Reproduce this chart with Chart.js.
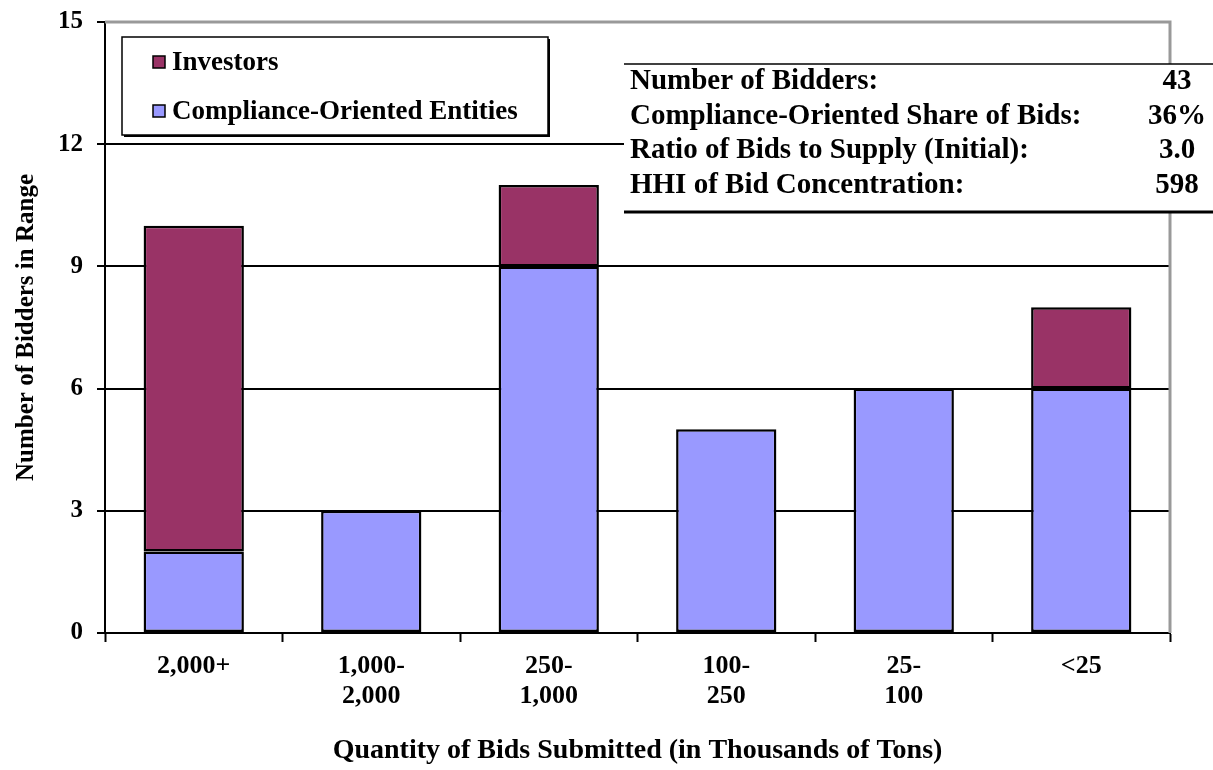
<!DOCTYPE html>
<html>
<head>
<meta charset="utf-8">
<script src="https://cdn.jsdelivr.net/npm/chart.js@4"></script>
<style>
  html, body { margin: 0; padding: 0; background: #fff; }
  #wrap { width: 1213px; height: 770px; }
</style>
</head>
<body>
<div id="wrap"><canvas id="myChart" width="1213" height="770"></canvas></div>
<script>
const categories = [["2,000+"], ["1,000-", "2,000"], ["250-", "1,000"], ["100-", "250"], ["25-", "100"], ["<25"]];
const compliance = [2, 3, 9, 5, 6, 6];
const investors = [8, 0, 2, 0, 0, 2];
const seriesNames = ["Investors", "Compliance-Oriented Entities"];
const seriesColors = ["#993366", "#9999FF"];
const yMax = 15;
const yStep = 3;
const statLabels = ["Number of Bidders:", "Compliance-Oriented Share of Bids:", "Ratio of Bids to Supply (Initial):", "HHI of Bid Concentration:"];
const statValues = ["43", "36%", "3.0", "598"];

const serif = "'Liberation Serif', 'Times New Roman', serif";

// gray plot border on top and right, like the Excel plot area
const plotBorder = {
  id: "plotBorder",
  beforeDatasetsDraw(chart) {
    const { ctx, chartArea: a } = chart;
    ctx.save();
    ctx.strokeStyle = "#999";
    ctx.lineWidth = 3;
    ctx.beginPath();
    ctx.moveTo(a.left, a.top);
    ctx.lineTo(a.right, a.top);
    ctx.lineTo(a.right, a.bottom);
    ctx.stroke();
    ctx.restore();
  },
};

// legend box and stats table inside the plot
const overlays = {
  id: "overlays",
  afterDraw(chart) {
    const ctx = chart.ctx;
    ctx.save();

    // legend
    ctx.fillStyle = "#000";
    ctx.fillRect(124, 39, 426, 98);
    ctx.fillStyle = "#fff";
    ctx.fillRect(122, 37, 426, 98);
    ctx.strokeStyle = "#000";
    ctx.lineWidth = 1.5;
    ctx.strokeRect(122, 37, 426, 98);
    ctx.font = "bold 27px " + serif;
    ctx.textBaseline = "middle";
    const rows = [62, 111];
    seriesNames.forEach((name, i) => {
      ctx.fillStyle = seriesColors[i];
      ctx.fillRect(153, rows[i] - 6, 12, 12);
      ctx.strokeStyle = "#000";
      ctx.lineWidth = 1.5;
      ctx.strokeRect(153, rows[i] - 6, 12, 12);
      ctx.fillStyle = "#000";
      ctx.fillText(name, 172, rows[i] + 1);
    });

    // stats table
    ctx.fillStyle = "#fff";
    ctx.fillRect(624, 64, 600, 149);
    ctx.strokeStyle = "#000";
    ctx.lineWidth = 1.5;
    ctx.beginPath();
    ctx.moveTo(624, 64);
    ctx.lineTo(1213, 64);
    ctx.stroke();
    ctx.lineWidth = 3;
    ctx.beginPath();
    ctx.moveTo(624, 212);
    ctx.lineTo(1213, 212);
    ctx.stroke();
    ctx.fillStyle = "#000";
    ctx.font = "bold 29px " + serif;
    statLabels.forEach((lab, i) => {
      const y = 82 + i * 34.5;
      ctx.textAlign = "left";
      ctx.fillText(lab, 630, y);
      ctx.textAlign = "center";
      ctx.fillText(statValues[i], 1177, y);
    });
    ctx.restore();
  },
};

const ctx = document.getElementById("myChart").getContext("2d");

const noZeroBorder = (c) => (c.raw === 0 ? 0 : 2.5);

const myChart = new Chart(ctx, {
  type: "bar",
  data: {
    labels: categories,
    datasets: [
      {
        label: seriesNames[1],
        data: compliance,
        backgroundColor: seriesColors[1],
        borderColor: "#000",
        borderWidth: noZeroBorder,
        borderSkipped: false,
      },
      {
        label: seriesNames[0],
        data: investors,
        backgroundColor: seriesColors[0],
        borderColor: "#000",
        borderWidth: noZeroBorder,
        borderSkipped: false,
      },
    ],
  },
  options: {
    responsive: false,
    animation: false,
    categoryPercentage: 1,
    barPercentage: 0.565,
    layout: {
      padding: { top: 22, right: 43, left: 0, bottom: 0 },
    },
    scales: {
      x: {
        stacked: true,
        afterFit(scale) {
          scale.height = 137;
          scale.paddingLeft = 0;
          scale.paddingRight = 0;
        },
        title: {
          display: true,
          text: "Quantity of Bids Submitted (in Thousands of Tons)",
          color: "#000",
          font: { family: serif, size: 28, weight: "bold" },
          padding: { top: 0, bottom: 2 },
        },
        ticks: {
          color: "#000",
          maxRotation: 0,
          padding: 9,
          font: { family: serif, size: 26, weight: "bold", lineHeight: 1.15 },
        },
        grid: {
          offset: true,
          drawOnChartArea: false,
          drawTicks: true,
          tickLength: 9,
          tickColor: "#000",
          tickWidth: 2,
        },
        border: { display: true, color: "#000", width: 2 },
      },
      y: {
        stacked: true,
        min: 0,
        max: yMax,
        afterFit(scale) {
          scale.width = 105;
          scale.paddingTop = 0;
          scale.paddingBottom = 0;
        },
        title: {
          display: true,
          text: "Number of Bidders in Range",
          color: "#000",
          font: { family: serif, size: 25, weight: "bold" },
          padding: { top: 12, bottom: 0 },
        },
        ticks: {
          stepSize: yStep,
          color: "#000",
          padding: 14,
          font: { family: serif, size: 25, weight: "bold" },
        },
        grid: {
          color: (c) => (c.tick && c.tick.value === yMax ? "rgba(0,0,0,0)" : "#000"),
          lineWidth: 2,
          tickLength: 8,
          tickColor: "#000",
          tickWidth: 2,
        },
        border: { display: true, color: "#000", width: 2 },
      },
    },
    plugins: {
      legend: { display: false },
      tooltip: { enabled: false },
    },
  },
  plugins: [plotBorder, overlays],
});
</script>
</body>
</html>
